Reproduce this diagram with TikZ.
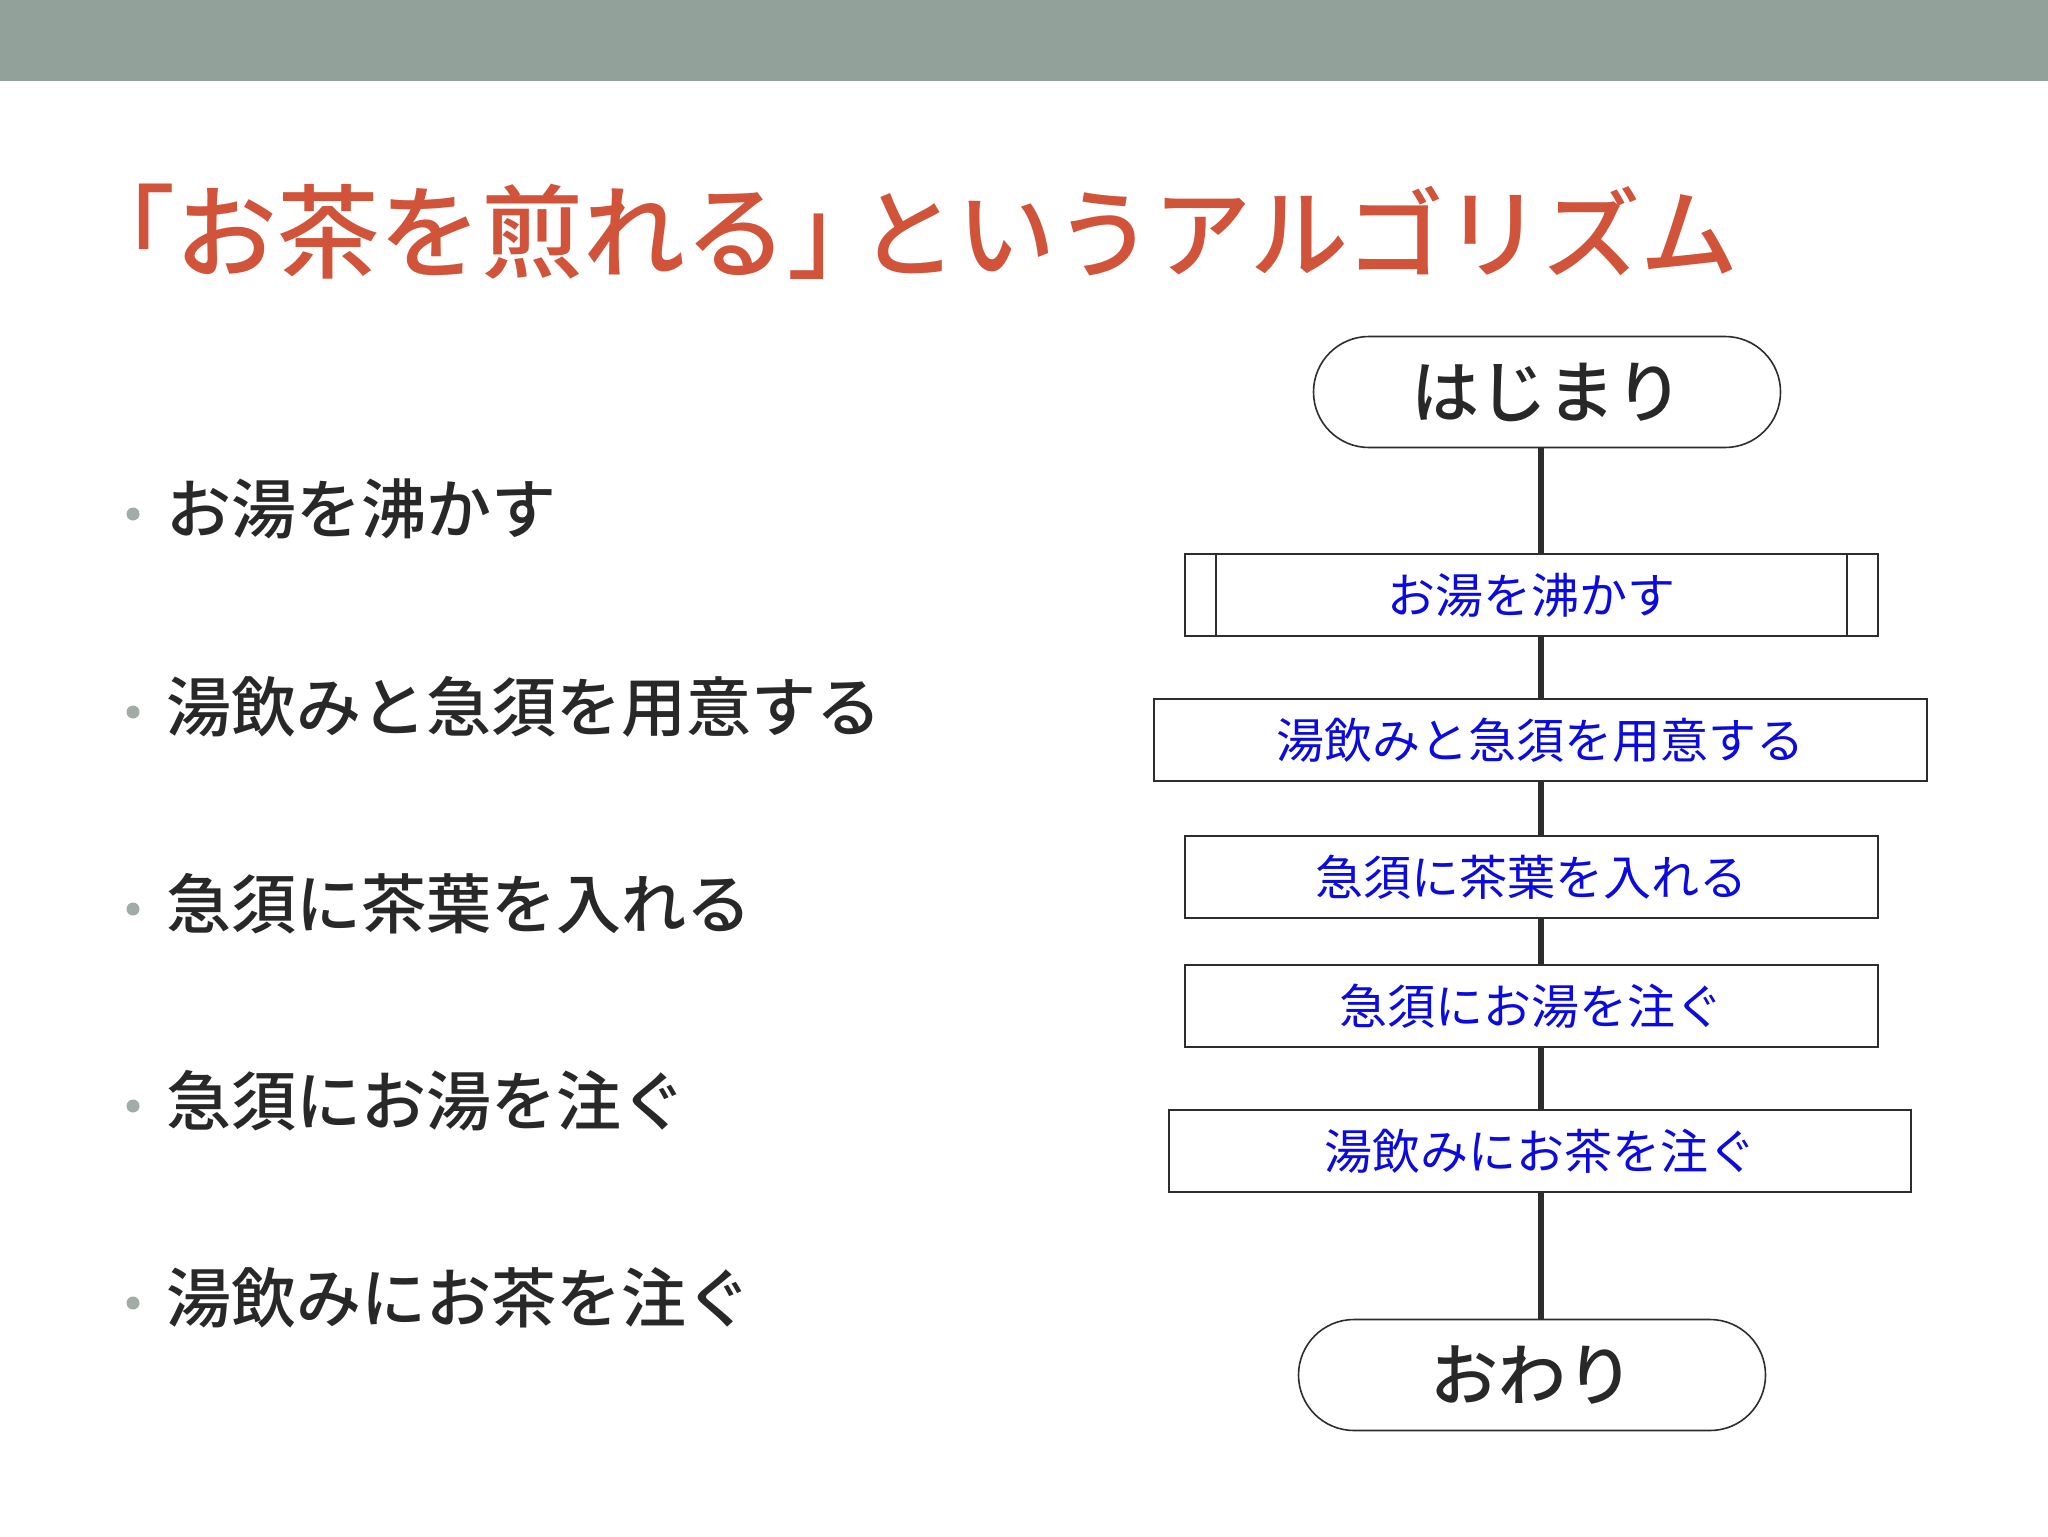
\documentclass[tikz,border=0pt]{standalone}
\usepackage{fontspec}
\setmainfont{Noto Sans CJK JP}
\newfontfamily\medfont{Noto Sans CJK JP}[UprightFont=* Medium]
\usetikzlibrary{shapes.misc}
\definecolor{barcol}{RGB}{146,161,154}
\definecolor{titlecol}{RGB}{208,83,58}
\definecolor{bodytext}{RGB}{40,40,40}
\definecolor{dotcol}{RGB}{160,172,165}
\definecolor{procblue}{RGB}{10,10,225}
\definecolor{linecol}{RGB}{45,45,45}
\tikzset{
  bul/.style={anchor=west, font=\medfont\fontsize{32.5}{38}\selectfont, text=bodytext, inner sep=0pt},
  bdot/.style={circle, fill=dotcol, inner sep=0pt, minimum size=6.5pt},
  proc/.style={draw=linecol, line width=1pt, rectangle, minimum height=41pt, text=procblue, font=\fontsize{24}{28}\selectfont, inner sep=0pt},
  term/.style={draw=linecol, line width=0.8pt, rounded rectangle, minimum height=55.5pt, minimum width=233.5pt, font=\medfont\fontsize{34}{40}\selectfont, text=bodytext, inner sep=0pt},
  spine/.style={line width=3pt, draw=linecol}
}
\begin{document}
\begin{tikzpicture}[x=0.5pt,y=-0.5pt]
\useasboundingbox (0,0) rectangle (2048,1536);
\fill[white] (0,0) rectangle (2048,1536);
\fill[barcol] (0,0) rectangle (2048,81);
% title
\node[anchor=west, font=\medfont, text=titlecol, inner sep=0pt] (title) at (73,232) {{\fontsize{51}{58}\selectfont 「お茶を煎れる」}\hspace{-15pt}{\fontsize{49}{58}\selectfont というアルゴリズム}};
% bullets
\foreach \i/\yy/\t in {1/509/お湯を沸かす, 2/707/湯飲みと急須を用意する, 3/904/急須に茶葉を入れる, 4/1101/急須にお湯を注ぐ, 5/1298/湯飲みにお茶を注ぐ}{
  \node[bdot] (d\i) at (133,\yy+5) {};
  \node[bul] (t\i) at (166,\yy) {\t};
}
% flowchart
\coordinate (sp) at (1541,0);
\node[term] (start) at (1547,392) {はじまり};
\node[proc, minimum width=346.5pt] (b1) at (1531,595) {お湯を沸かす};
\node[proc, minimum width=386.5pt] (b2) at (1540,740) {湯飲みと急須を用意する};
\node[proc, minimum width=346.5pt] (b3) at (1531,877) {急須に茶葉を入れる};
\node[proc, minimum width=346.5pt] (b4) at (1531,1006) {急須にお湯を注ぐ};
\node[proc, minimum width=371pt] (b5) at (1540,1151) {湯飲みにお茶を注ぐ};
\node[term] (end) at (1532,1375) {おわり};
\draw[line width=1pt, draw=linecol] ([xshift=16pt]b1.north west) -- ([xshift=16pt]b1.south west);
\draw[line width=1pt, draw=linecol] ([xshift=-16pt]b1.north east) -- ([xshift=-16pt]b1.south east);
\draw[spine] (start.south -| sp) -- (b1.north -| sp);
\draw[spine] (b1.south -| sp) -- (b2.north -| sp);
\draw[spine] (b2.south -| sp) -- (b3.north -| sp);
\draw[spine] (b3.south -| sp) -- (b4.north -| sp);
\draw[spine] (b4.south -| sp) -- (b5.north -| sp);
\draw[spine] (b5.south -| sp) -- (end.north -| sp);
\end{tikzpicture}
\end{document}
